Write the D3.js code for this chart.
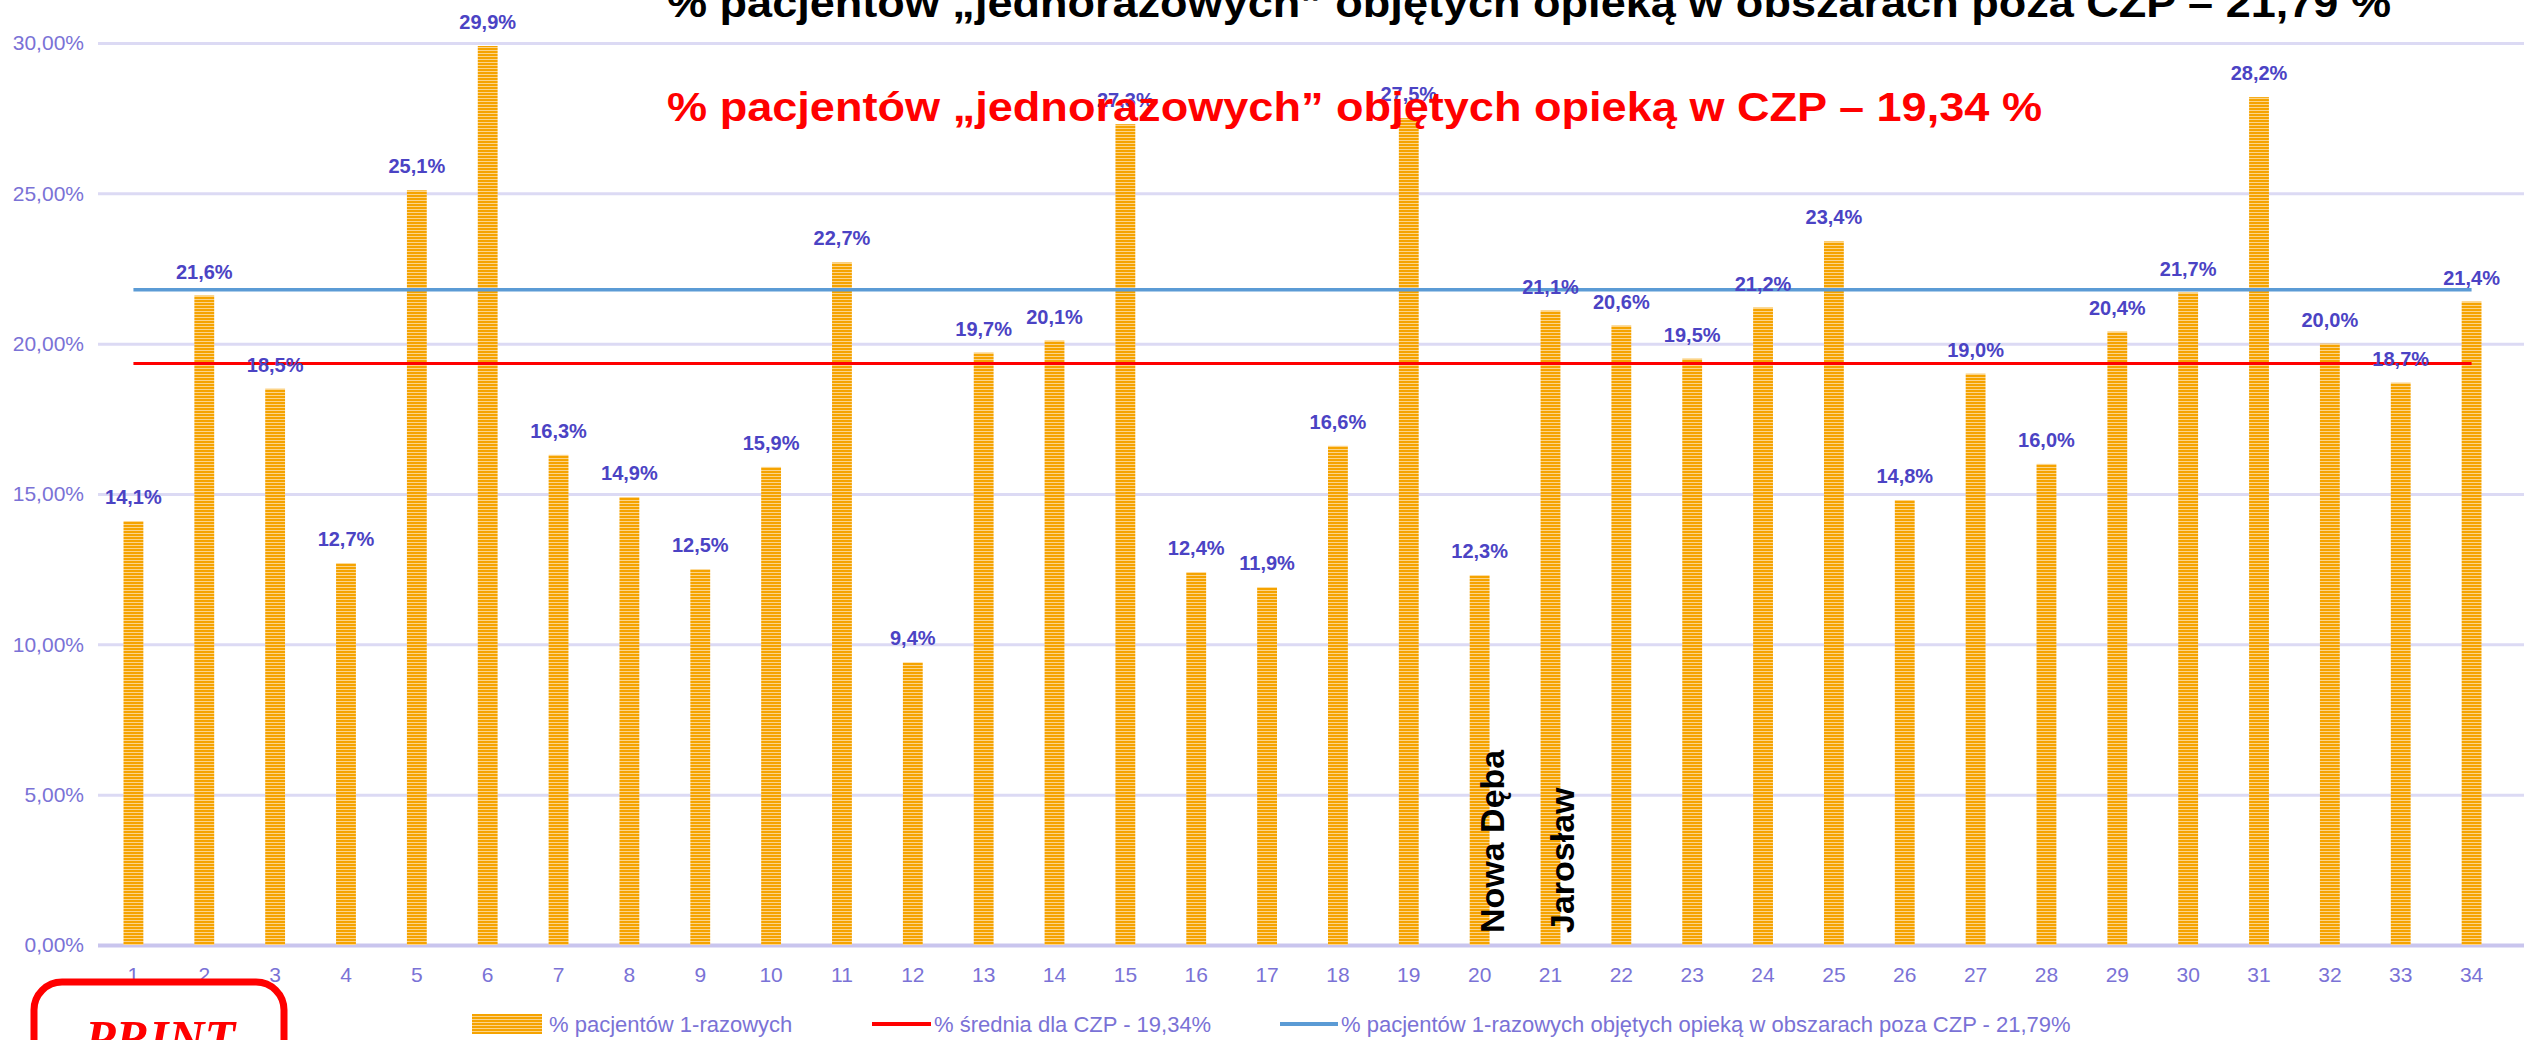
<!DOCTYPE html>
<html>
<head>
<meta charset="utf-8">
<script src="https://cdn.jsdelivr.net/npm/d3@7"></script>
<style>
  body { margin: 0; background: #fff; }
  svg { display: block; }
</style>
</head>
<body>
<svg id="chart" width="2524" height="1040"></svg>
<script>
// data
var categories = d3.range(1, 35).map(String);
var shares = [14.1, 21.6, 18.5, 12.7, 25.1, 29.9, 16.3, 14.9, 12.5, 15.9,
              22.7, 9.4, 19.7, 20.1, 27.3, 12.4, 11.9, 16.6, 27.5, 12.3,
              21.1, 20.6, 19.5, 21.2, 23.4, 14.8, 19.0, 16.0, 20.4, 21.7,
              28.2, 20.0, 18.7, 21.4];
var yTicks = [0, 5, 10, 15, 20, 25, 30];
var czpAvg = 19.34;
var outsideAvg = 21.79;
var placeNames = [["20", "Nowa Dęba"], ["21", "Jarosław"]];
var titleTop = "% pacjentów „jednorazowych” objętych opieką w obszarach poza CZP – 21,79 %";
var titleRed = "% pacjentów „jednorazowych” objętych opieką w CZP – 19,34 %";
var legendItems = ["% pacjentów 1-razowych",
                   "% średnia dla CZP - 19,34%",
                   "% pacjentów 1-razowych objętych opieką w obszarach poza CZP - 21,79%"];

var svg = d3.select("#chart");
var W = 2524;
var plot = { left: 98, right: 2507, top: 43, bottom: 945 };

var purple = "#7a72d6";
var labelBlue = "#4b43c4";
var font = "'Liberation Sans', Arial, sans-serif";

// striped fill for the bars
var defs = svg.append("defs");
var pat = defs.append("pattern")
    .attr("id", "stripes")
    .attr("patternUnits", "userSpaceOnUse")
    .attr("width", 6).attr("height", 3);
pat.append("rect").attr("width", 6).attr("height", 3).attr("fill", "#f5a300");
pat.append("rect").attr("y", 2).attr("width", 6).attr("height", 1).attr("fill", "#fcd48a");

var x = d3.scaleBand()
    .domain(categories)
    .range([plot.left, plot.right])
    .paddingInner(0.72)
    .paddingOuter(0.36);
var y = d3.scaleLinear()
    .domain([0, 30])
    .range([plot.bottom, plot.top]);
var cx = function (c) { return x(c) + x.bandwidth() / 2; };

// y axis + grid
var yAxis = svg.append("g")
    .attr("transform", "translate(" + plot.left + ",0)")
    .call(d3.axisLeft(y)
        .tickValues(yTicks)
        .tickSize(-(W - plot.left))
        .tickPadding(14)
        .tickFormat(function (d) { return d.toFixed(2).replace(".", ",") + "%"; }));
yAxis.select(".domain").remove();
yAxis.selectAll(".tick line")
    .attr("stroke", function (d) { return d === 0 ? "#c9c5ee" : "#dcdaf4"; })
    .attr("stroke-width", function (d) { return d === 0 ? 4 : 3; });
yAxis.selectAll(".tick text")
    .attr("fill", purple)
    .style("font", "21px " + font);

// x axis labels
var xAxis = svg.append("g")
    .attr("transform", "translate(0," + plot.bottom + ")")
    .call(d3.axisBottom(x).tickSize(0).tickPadding(22));
xAxis.select(".domain").remove();
xAxis.selectAll(".tick text")
    .attr("fill", purple)
    .style("font", "21px " + font);

// bars
svg.append("g").selectAll("rect")
    .data(shares)
    .join("rect")
    .attr("x", function (d, i) { return x(categories[i]); })
    .attr("y", function (d) { return y(d); })
    .attr("width", x.bandwidth())
    .attr("height", function (d) { return y(0) - y(d); })
    .attr("fill", "url(#stripes)");

// average lines
var line = d3.line()
    .x(function (d) { return cx(d[0]); })
    .y(function (d) { return y(d[1]); });
svg.append("path")
    .datum(categories.map(function (c) { return [c, outsideAvg]; }))
    .attr("d", line)
    .attr("fill", "none")
    .attr("stroke", "#5b9bd5")
    .attr("stroke-width", 3.5);
svg.append("path")
    .datum(categories.map(function (c) { return [c, czpAvg]; }))
    .attr("d", line)
    .attr("fill", "none")
    .attr("stroke", "#ff0000")
    .attr("stroke-width", 3);

// value labels
svg.append("g").selectAll("text")
    .data(shares)
    .join("text")
    .attr("x", function (d, i) { return cx(categories[i]); })
    .attr("y", function (d) { return y(d) - 17; })
    .attr("text-anchor", "middle")
    .attr("fill", labelBlue)
    .style("font", "bold 20px " + font)
    .text(function (d) { return d.toFixed(1).replace(".", ",") + "%"; });

// place names, rotated
svg.append("g").selectAll("text")
    .data(placeNames)
    .join("text")
    .attr("transform", function (d) {
        return "translate(" + (cx(d[0]) + 24) + "," + (plot.bottom - 12) + ") rotate(-90)";
    })
    .attr("fill", "#000")
    .style("font", "bold 34px " + font)
    .text(function (d) { return d[1]; });

// titles
svg.append("text")
    .attr("x", 667).attr("y", 17)
    .attr("textLength", 1724).attr("lengthAdjust", "spacingAndGlyphs")
    .attr("fill", "#000")
    .style("font", "bold 41px " + font)
    .text(titleTop);
svg.append("text")
    .attr("x", 667).attr("y", 121)
    .attr("textLength", 1375).attr("lengthAdjust", "spacingAndGlyphs")
    .attr("fill", "#ff0000")
    .style("font", "bold 41px " + font)
    .text(titleRed);

// legend
var legendY = 1024;
var lg = svg.append("g").style("font", "22px " + font);
lg.append("rect")
    .attr("x", 472).attr("y", legendY - 10).attr("width", 70).attr("height", 20)
    .attr("fill", "url(#stripes)");
lg.append("line")
    .attr("x1", 872).attr("x2", 931).attr("y1", legendY).attr("y2", legendY)
    .attr("stroke", "#ff0000").attr("stroke-width", 4);
lg.append("line")
    .attr("x1", 1280).attr("x2", 1338).attr("y1", legendY).attr("y2", legendY)
    .attr("stroke", "#5b9bd5").attr("stroke-width", 4);
var legendX = [549, 934, 1341];
lg.selectAll("text")
    .data(legendItems)
    .join("text")
    .attr("x", function (d, i) { return legendX[i]; })
    .attr("y", legendY + 8)
    .attr("fill", purple)
    .text(function (d) { return d; });

// "PRINT" stamp in the corner
svg.append("rect")
    .attr("x", 34).attr("y", 982).attr("width", 250).attr("height", 120)
    .attr("rx", 28)
    .attr("fill", "#fff")
    .attr("stroke", "#ff0000")
    .attr("stroke-width", 7);
svg.append("text")
    .attr("x", 160).attr("y", 1055)
    .attr("text-anchor", "middle")
    .attr("fill", "#ff0000")
    .style("font", "italic bold 50px 'Liberation Serif', 'Times New Roman', serif")
    .text("PRINT");
</script>
</body>
</html>
